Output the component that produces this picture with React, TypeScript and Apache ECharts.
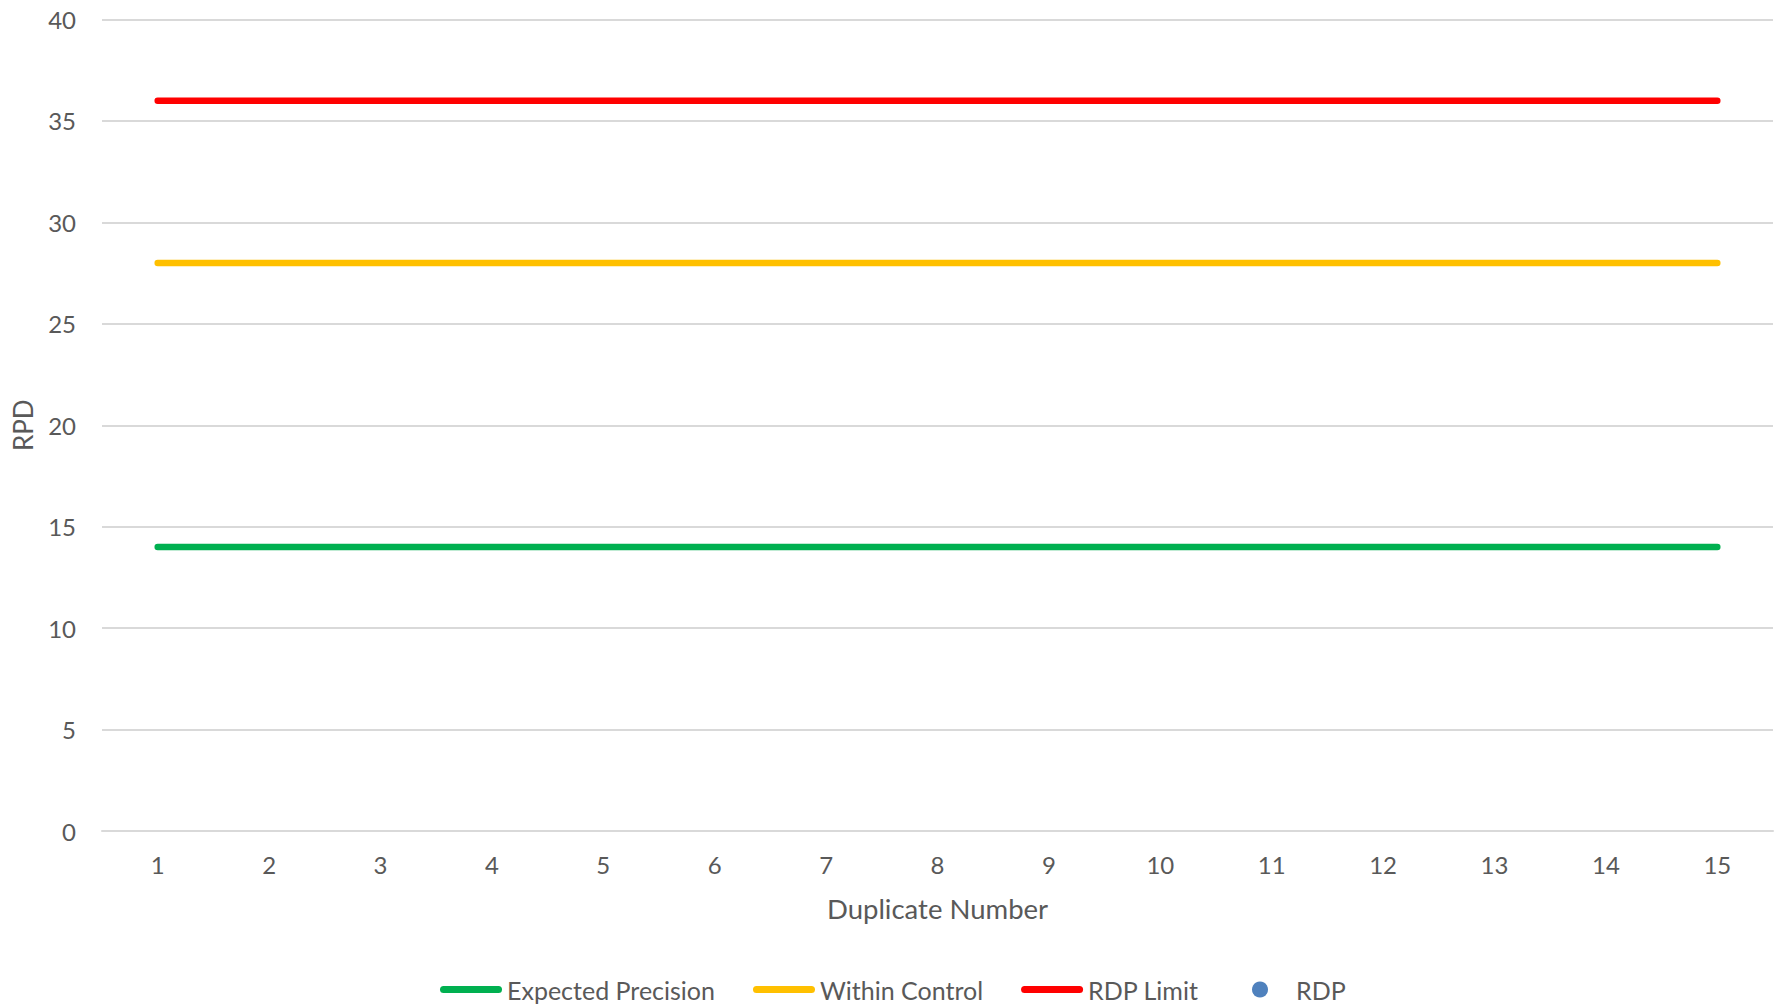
import React, { useEffect, useRef } from "react";
import * as echarts from "echarts";

const categories = ["1", "2", "3", "4", "5", "6", "7", "8", "9", "10", "11", "12", "13", "14", "15"];
const expectedPrecision = [14, 14, 14, 14, 14, 14, 14, 14, 14, 14, 14, 14, 14, 14, 14];
const withinControl = [28, 28, 28, 28, 28, 28, 28, 28, 28, 28, 28, 28, 28, 28, 28];
const rdpLimit = [36, 36, 36, 36, 36, 36, 36, 36, 36, 36, 36, 36, 36, 36, 36];
const rdp: number[] = [];

const FONT = "Lato, 'Open Sans', sans-serif";
const TXT = "#595959";
const GRID = "#D9D9D9";
const LINE_ICON = "path://M0,0 M62,16 M3.5,4.5 H58.5 A3.5,3.5 0 0 1 58.5,11.5 H3.5 A3.5,3.5 0 0 1 3.5,4.5 Z";

export default function App() {
  const ref = useRef<HTMLDivElement>(null);
  useEffect(() => {
    if (!ref.current) return;
    const chart = echarts.init(ref.current, null, { renderer: "svg" });
    const lineSeries = (name: string, data: number[], color: string) => ({
      name,
      type: "line",
      data,
      symbol: "none",
      showSymbol: false,
      lineStyle: { color, width: 6.5, cap: "round" },
      itemStyle: { color },
    });
    const legendBase = {
      top: 972,
      itemWidth: 62,
      itemHeight: 16,
      itemGap: 38,
      textStyle: { color: TXT, fontSize: 25, fontFamily: FONT },
    };
    chart.setOption({
      animation: false,
      textStyle: { fontFamily: FONT },
      grid: { left: 102, right: 11, top: 19.5, bottom: 177, containLabel: false },
      legend: [
        {
          ...legendBase,
          left: 435,
          data: [
            { name: "Expected Precision", icon: LINE_ICON },
            { name: "Within Control", icon: LINE_ICON },
            { name: "RDP Limit", icon: LINE_ICON },
          ],
        },
        {
          ...legendBase,
          left: 1247,
          data: [{ name: "RDP", icon: "circle" }],
        },
      ],
      xAxis: {
        type: "category",
        data: categories,
        boundaryGap: true,
        name: "Duplicate Number",
        nameLocation: "middle",
        nameGap: 63,
        nameTextStyle: { color: TXT, fontSize: 27.5, fontFamily: FONT },
        axisLine: { lineStyle: { color: GRID, width: 2 } },
        axisTick: { show: false },
        axisLabel: { color: TXT, fontSize: 24, margin: 21, fontFamily: FONT },
        splitLine: { show: false },
      },
      yAxis: {
        type: "value",
        min: 0,
        max: 40,
        interval: 5,
        name: "RPD",
        nameLocation: "middle",
        nameGap: 66,
        nameTextStyle: { color: TXT, fontSize: 26, fontFamily: FONT },
        axisLine: { show: false },
        axisTick: { show: false },
        axisLabel: { color: TXT, fontSize: 24, margin: 26, fontFamily: FONT },
        splitLine: { lineStyle: { color: GRID, width: 2 } },
      },
      series: [
        lineSeries("Expected Precision", expectedPrecision, "#00B050"),
        lineSeries("Within Control", withinControl, "#FFC000"),
        lineSeries("RDP Limit", rdpLimit, "#FF0000"),
        {
          name: "RDP",
          type: "scatter",
          data: rdp,
          symbolSize: 16,
          itemStyle: { color: "#4F81BD", opacity: 1 },
        },
      ],
    });
    return () => chart.dispose();
  }, []);
  return <div ref={ref} style={{ width: 1784, height: 1008, position: "absolute", left: 0, top: 0 }} />;
}
